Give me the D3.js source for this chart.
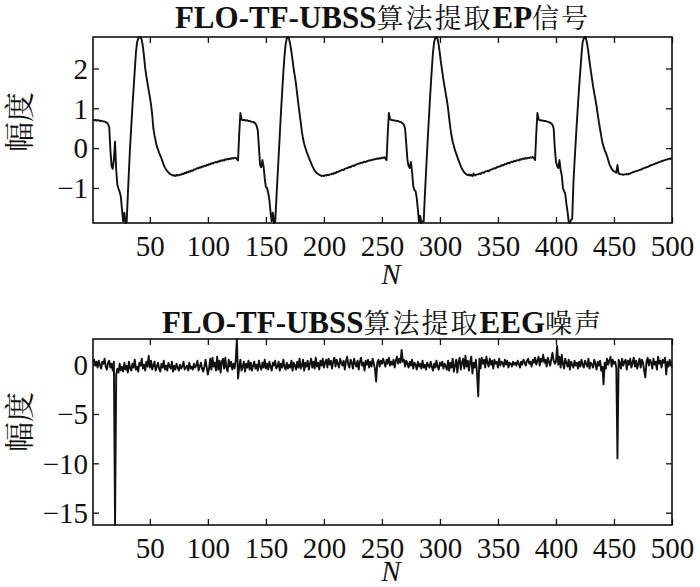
<!DOCTYPE html>
<html><head><meta charset="utf-8">
<script src="https://cdn.jsdelivr.net/npm/d3@7"></script>
<style>body{margin:0;background:#fff}svg{display:block}</style>
</head><body>
<svg id="chart" width="700" height="587"></svg>
<script>
// ---- EP signal (top panel), N = 1..500 ----
const epCycle1 = [
 0.71,0.70,0.71,0.69,0.70,0.70,0.68,0.69,0.68,0.67,0.67,0.65,0.64,0.60,0.52,
 -0.05,-0.45,-0.52,-0.28,0.16,-0.55,-0.92,-1.02,-1.10,-1.22,-1.55,-1.84,-1.62,-1.88,-1.86,
 -1.20,-0.55,0.05,0.55,1.05,1.50,1.95,2.40,2.66,2.76,2.79,2.78,2.72,2.55,2.30,
 2.00,1.80,1.62,1.45,1.28,1.10,0.85,0.50,0.32,0.18,0.05,-0.03,-0.12,-0.19,-0.26,
 -0.34,-0.43,-0.49,-0.54,-0.58,-0.61,-0.64,-0.66,-0.67,-0.69,-0.68,-0.70,-0.67,-0.69,-0.68,
 -0.66,-0.67,-0.64,-0.65,-0.62,-0.63,-0.60,-0.61,-0.58,-0.59,-0.56,-0.57,-0.54,-0.53,-0.52,
 -0.50,-0.51,-0.48,-0.49,-0.46,-0.47,-0.44,-0.45,-0.42,-0.43,-0.40,-0.41,-0.38,-0.39,-0.37,
 -0.36,-0.35,-0.36,-0.33,-0.34,-0.31,-0.32,-0.30,-0.31,-0.28,-0.29,-0.27,-0.28,-0.26,-0.27,
 -0.25,-0.26,-0.24,-0.25,-0.27,-0.31,0.35,0.88
];
const epCycle2 = [
 0.72,0.70,0.71,0.70,0.69,0.70,0.68,0.68,0.67,0.66,0.66,0.64,0.62,0.56,0.45,
 0.02,-0.42,-0.48,-0.30,-0.46,-0.76,-0.98,-1.00,-1.12,-1.30,-1.60,-1.84,-1.62,-1.88,-1.86,
 -1.30,-0.75,-0.20,0.35,0.90,1.40,1.88,2.30,2.60,2.76,2.79,2.74,2.60,2.42,2.20,
 1.98,1.80,1.60,1.35,1.10,0.88,0.65,0.42,0.24,0.11,0.01,-0.08,-0.16,-0.24,-0.31,
 -0.38,-0.45,-0.51,-0.56,-0.60,-0.63,-0.65,-0.67,-0.68,-0.70,-0.69,-0.70,-0.68,-0.69,-0.67,
 -0.68,-0.66,-0.66,-0.64,-0.65,-0.62,-0.63,-0.60,-0.60,-0.58,-0.57,-0.56,-0.54,-0.55,-0.52,
 -0.51,-0.50,-0.49,-0.47,-0.48,-0.45,-0.44,-0.45,-0.42,-0.41,-0.40,-0.39,-0.38,-0.37,-0.37,
 -0.35,-0.34,-0.35,-0.33,-0.32,-0.31,-0.31,-0.29,-0.30,-0.28,-0.28,-0.27,-0.26,-0.27,-0.25,
 -0.26,-0.24,-0.25,-0.23,-0.26,-0.30,0.35,0.88
];
const epCycle3 = [
 0.72,0.71,0.70,0.70,0.69,0.69,0.68,0.68,0.66,0.66,0.64,0.62,0.58,0.48,0.10,
 -0.30,-0.45,-0.50,-0.35,-0.60,-0.95,-1.05,-1.08,-1.25,-1.55,-1.86,-1.70,-1.88,-1.84,-1.84,
 -1.20,-0.62,-0.05,0.50,1.02,1.52,1.98,2.40,2.66,2.77,2.79,2.74,2.58,2.36,2.12,
 1.92,1.72,1.54,1.37,1.20,1.00,0.74,0.50,0.31,0.16,0.05,-0.05,-0.14,-0.22,-0.30,
 -0.38,-0.46,-0.52,-0.57,-0.61,-0.64,-0.66,-0.68,-0.66,-0.69,-0.67,-0.70,-0.64,-0.69,-0.67,
 -0.66,-0.66,-0.64,-0.65,-0.62,-0.61,-0.62,-0.59,-0.58,-0.57,-0.58,-0.55,-0.54,-0.53,-0.52,
 -0.50,-0.51,-0.48,-0.47,-0.46,-0.46,-0.43,-0.44,-0.42,-0.40,-0.41,-0.38,-0.37,-0.38,-0.35,
 -0.34,-0.35,-0.32,-0.33,-0.31,-0.30,-0.31,-0.28,-0.29,-0.27,-0.26,-0.27,-0.25,-0.26,-0.24,
 -0.25,-0.23,-0.24,-0.22,-0.25,-0.30,0.35,0.88
];
const epCycle4 = [
 0.72,0.70,0.70,0.69,0.69,0.68,0.68,0.67,0.66,0.65,0.64,0.62,0.58,0.50,0.00,
 -0.34,-0.45,-0.50,-0.30,-0.55,-0.68,-1.00,-1.08,-1.15,-1.40,-1.60,-1.85,-1.88,-1.80,-1.78,
 -0.90,-0.35,0.15,0.65,1.10,1.55,1.95,2.35,2.66,2.76,2.79,2.74,2.60,2.40,2.15,
 1.95,1.75,1.55,1.38,1.22,1.05,0.85,0.65,0.48,0.30,0.15,0.04,-0.05,-0.12,-0.20,
 -0.30,-0.40,-0.46,-0.52,-0.56,-0.58,-0.60,-0.62,-0.42,-0.64,-0.65,-0.66,-0.66,-0.67,-0.66,
 -0.66,-0.65,-0.66,-0.64,-0.64,-0.62,-0.61,-0.60,-0.59,-0.58,-0.57,-0.56,-0.55,-0.54,-0.53,
 -0.51,-0.50,-0.49,-0.48,-0.47,-0.46,-0.44,-0.43,-0.42,-0.41,-0.40,-0.38,-0.38,-0.36,-0.35,
 -0.34,-0.33,-0.32,-0.31,-0.30,-0.29,-0.28,-0.28,-0.26,-0.27,-0.25
];

// ---- EEG noise (bottom panel), N = 1..500 ----
const eeg001 = [0.2,0.5,-0.1,0.3,-0.3,0.4,0.0,-0.4,0.3,0.1, 0.6,-0.2,-0.5,0.2,0.4,-0.3,0.1,-0.6,0.3,-16.25, -1.0,-0.4,-0.8,0.1,-0.6,-0.2,-0.7,0.2,-0.5,-0.1, -0.8,0.3,-0.4,-0.6,0.1,-0.3,0.5,-0.5,-0.2,-0.7, 0.2,-0.1,0.6,-0.4,0.0,-0.6,0.3,-0.2,0.9,-0.3];
const eeg051 = [0.4,-0.5,-0.1,0.3,-0.6,-0.2,0.2,-0.4,-0.7,0.1, -0.3,0.4,-0.5,-0.1,-0.6,0.2,-0.2,-0.4,0.3,-0.7, -0.1,-0.5,0.1,-0.3,-0.6,0.0,-0.4,-0.2,0.3,-0.5, -0.3,-0.1,-0.6,0.2,-0.4,-0.2,-0.5,0.1,-0.3,-0.1, 0.4,-0.6,-0.2,0.2,-0.4,-0.7,-0.2,0.5,-0.3,-1.0];
const eeg101 = [-0.4,0.6,-0.5,0.7,-0.2,0.2,-0.6,0.8,-0.5,0.4, -0.8,0.3,0.6,-0.4,0.7,-0.3,-0.7,0.5,-0.2,0.3, -0.5,0.1,-0.4,0.4,2.6,-1.4,-0.3,0.5,-0.6,-0.2, 0.3,-0.7,0.1,-0.3,0.4,-0.5,0.2,-0.6,-0.1,0.3, -0.4,0.0,-0.6,0.4,-0.2,-0.5,0.2,-0.3,0.5,-0.4];
const eeg151 = [0.1,-0.5,0.3,-0.2,-0.6,0.2,-0.1,0.4,-0.4,-0.2, 0.3,-0.6,0.1,-0.3,0.5,-0.2,-0.5,0.2,-0.4,0.0, -0.3,0.4,-0.6,0.2,-0.1,-0.5,0.3,-0.3,0.6,-0.4, -0.1,0.5,-0.6,0.2,-0.2,0.4,-0.5,0.1,0.6,-0.3, 0.3,-0.4,0.7,-0.2,0.2,-0.5,0.4,-0.1,0.6,-0.3];
const eeg201 = [0.2,0.5,-0.3,0.6,0.0,0.4,-0.4,0.3,0.7,-0.2, 0.5,0.1,-0.3,0.6,0.2,-0.1,0.4,-0.5,0.3,0.8, 0.0,-0.3,0.5,0.2,-0.4,0.6,0.1,-0.2,0.4,-0.5, 0.3,0.7,-0.1,0.2,-0.6,0.4,0.0,0.5,-0.3,0.3, -0.2,0.6,0.1,-0.4,-1.7,0.2,0.5,-0.2,0.4,0.1];
const eeg251 = [0.6,0.2,-0.2,0.5,0.1,0.7,-0.1,0.3,0.0,0.5, -0.3,0.4,0.8,0.1,0.6,0.2,1.5,0.3,0.5,-0.2, 0.4,0.1,-0.3,0.3,-0.1,0.5,-0.4,0.2,0.0,-0.5, 0.3,-0.2,0.1,-0.4,0.4,-0.3,0.0,-0.5,0.2,-0.1, -0.3,0.3,-0.2,-0.6,0.1,-0.3,0.4,-0.2,-0.5,0.2];
const eeg301 = [-0.1,0.3,-0.4,0.1,-0.2,-0.5,0.4,-0.6,0.2,-0.3, 0.6,-0.7,-0.1,0.5,-0.8,0.3,0.7,-0.5,0.2,0.6, -0.4,0.9,-0.2,0.4,-0.6,0.3,0.8,-0.9,0.2,-0.3, 0.5,-1.0,-3.2,0.6,-0.4,0.7,0.1,0.5,-0.3,0.8, 0.2,-0.2,0.6,0.0,0.4,-0.4,0.5,0.1,0.3,-0.3];
const eeg351 = [0.6,-0.1,0.3,0.2,-0.2,0.5,0.0,0.4,-0.3,0.2, 0.1,-0.2,0.3,0.0,0.2,-0.1,0.4,0.1,-0.3,0.3, 0.0,0.5,0.2,-0.1,0.4,0.6,0.1,0.3,-0.2,0.5, 0.2,0.7,0.0,0.4,0.8,-0.1,0.6,0.3,1.0,0.2, 0.5,-0.2,0.7,0.3,-0.1,0.6,1.2,0.4,0.1,0.3];
const eeg401 = [1.9,0.0,0.8,-0.3,1.0,0.1,-0.4,0.6,0.2,-0.2, 0.5,-0.5,0.3,0.0,-0.3,0.4,-0.1,0.2,-0.4,0.3, -0.2,0.5,0.0,-0.3,0.4,0.1,-0.2,0.6,-0.4,0.2, 0.0,-0.3,0.5,0.1,-0.5,0.3,-0.1,0.4,-0.6,-0.2, -2.0,0.2,-0.4,0.6,0.0,0.4,0.8,-0.2,0.5,0.1];
const eeg451 = [0.3,-0.3,-9.5,0.5,0.2,-0.4,0.6,-0.1,0.3,0.5, -0.5,0.4,0.0,0.6,-0.3,0.2,0.7,-0.2,0.4,-0.4, 0.1,0.6,-0.3,0.5,0.2,-0.6,-1.3,0.3,0.7,-0.1, 0.5,0.2,-0.4,0.6,0.0,0.3,-0.5,0.8,0.1,0.4, -0.3,0.5,0.2,0.7,-1.0,0.3,-0.2,0.5,0.1,-0.3];

// ---- ticks and text ----
const xTicks = [50,100,150,200,250,300,350,400,450,500];
const epYTicks = [-1,0,1,2];
const eegYTicks = [-15,-10,-5,0];
const epTitle = [["FLO-TF-UBSS","L"],["算法提取","C"],["EP","L"],["信号","C"]];
const eegTitle = [["FLO-TF-UBSS","L"],["算法提取","C"],["EEG","L"],["噪声","C"]];
const yLabel = "幅度";
const xLabel = "N";

const epSeries = [].concat(epCycle1, epCycle2, epCycle3, epCycle4);
const eegSeries = [].concat(eeg001,eeg051,eeg101,eeg151,eeg201,eeg251,eeg301,eeg351,eeg401,eeg451);

const LATIN = "'Liberation Serif','Times New Roman',serif";
const CJK = "'Noto Serif CJK SC','Noto Sans CJK SC',sans-serif";

const svg = d3.select("#chart");
svg.append("rect").attr("width",700).attr("height",587).attr("fill","#fff");

const X0 = 93, X1 = 672;
const x = d3.scaleLinear().domain([1, 500]).range([X0, X1]);

const panels = [
  {top:37, bottom:223, data:epSeries, yTicks:epYTicks, title:epTitle, titleY:28, yLabelY:122, nY:284},
  {top:339, bottom:525, data:eegSeries, yTicks:eegYTicks, title:eegTitle, titleY:333, yLabelY:422, nY:581}
];

panels.forEach(p => {
  const y = d3.scaleLinear().domain(d3.extent(p.data)).range([p.bottom, p.top]);
  const g = svg.append("g");

  g.append("path")
    .datum(p.data)
    .attr("fill","none").attr("stroke","#111").attr("stroke-width",1.9)
    .attr("stroke-linejoin","round")
    .attr("d", d3.line().x((d,i)=>x(i+1)).y(d=>y(d)));

  const styleAxis = sel => {
    sel.select(".domain").remove();
    sel.selectAll(".tick line").attr("stroke","#111").attr("stroke-width",1.3);
  };

  const gb = g.append("g").attr("transform",`translate(0,${p.bottom})`)
    .call(d3.axisBottom(x).tickValues(xTicks).tickSizeInner(-6).tickSizeOuter(0).tickPadding(0));
  styleAxis(gb);
  gb.selectAll("text").attr("y",33).attr("dy",null)
    .attr("fill","#111").style("font-family",LATIN).style("font-size","29px");

  const gt = g.append("g").attr("transform",`translate(0,${p.top})`)
    .call(d3.axisTop(x).tickValues(xTicks).tickSizeInner(-6).tickSizeOuter(0).tickFormat(""));
  styleAxis(gt);

  const gl = g.append("g").attr("transform",`translate(${X0},0)`)
    .call(d3.axisLeft(y).tickValues(p.yTicks).tickSizeInner(-6).tickSizeOuter(0).tickPadding(0).tickFormat(d3.format("d")));
  styleAxis(gl);
  gl.selectAll("text").attr("x",-5).attr("dy","0.34em")
    .attr("fill","#111").style("font-family",LATIN).style("font-size","29px");

  const gr = g.append("g").attr("transform",`translate(${X1},0)`)
    .call(d3.axisRight(y).tickValues(p.yTicks).tickSizeInner(-6).tickSizeOuter(0).tickFormat(""));
  styleAxis(gr);

  g.append("rect").attr("x",X0).attr("y",p.top).attr("width",X1-X0).attr("height",p.bottom-p.top)
    .attr("fill","none").attr("stroke","#111").attr("stroke-width",1.6);

  const t = svg.append("text").attr("x",(X0+X1)/2).attr("y",p.titleY)
    .attr("text-anchor","middle").attr("fill","#111");
  p.title.forEach(([s,k]) => {
    t.append("tspan").text(s)
      .style("font-family", k==="L" ? LATIN : CJK)
      .style("font-weight", k==="L" ? "bold" : "normal")
      .style("font-size", k==="L" ? "31px" : "27px")
      .style("letter-spacing", k==="L" ? "0px" : "2px");
  });

  svg.append("text").attr("transform",`translate(17,${p.yLabelY}) rotate(-90)`)
    .attr("text-anchor","middle").attr("dominant-baseline","central")
    .style("font-family",CJK).style("font-size","30px").attr("fill","#111")
    .text(yLabel);

  svg.append("text").attr("x",391).attr("y",p.nY).attr("text-anchor","middle")
    .style("font-family",LATIN).style("font-style","italic").style("font-size","29px").attr("fill","#111")
    .text(xLabel);
});
</script>
</body></html>
